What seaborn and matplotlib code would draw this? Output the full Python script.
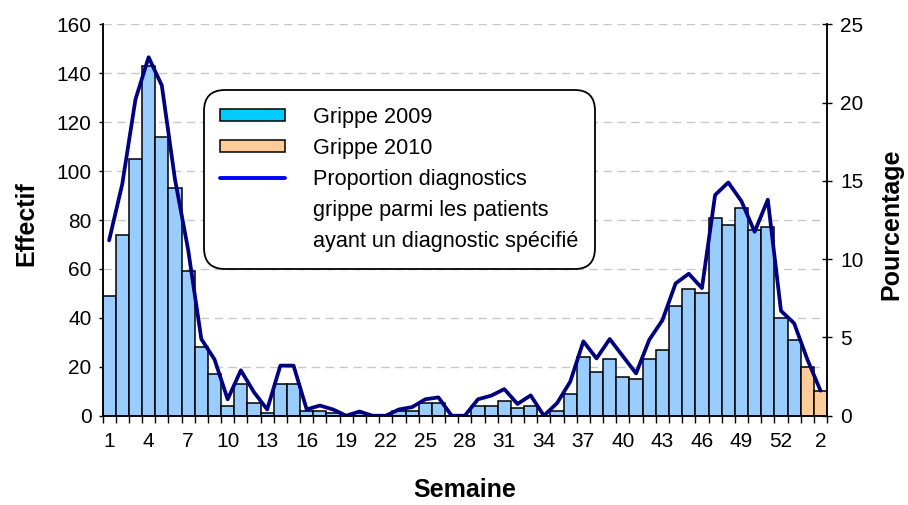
import numpy as np
import pandas as pd
import matplotlib
matplotlib.use("Agg")
import matplotlib.pyplot as plt
from matplotlib.patches import Patch
from matplotlib.lines import Line2D
import seaborn as sns

# Weekly counts of flu diagnoses (2009 weeks 1-53, then 2010 weeks 1-2)
weeks = list(range(1, 54)) + [1, 2]
years = ["2009"] * 53 + ["2010"] * 2
counts = [49, 74, 105, 143, 114, 93, 59, 28, 17, 4,
          13, 5, 1, 13, 13, 2, 2, 1, 0, 1,
          0, 0, 2, 2, 5, 5, 0, 0, 4, 4,
          6, 3, 4, 0, 2, 9, 24, 18, 23, 16,
          15, 23, 27, 45, 52, 50, 81, 78, 85, 76,
          77, 40, 31, 20, 10]
# Share of flu among patients with a specified diagnosis (%)
pct = [11.2, 14.8, 20.2, 22.9, 21.1, 15.1, 10.6, 4.9, 3.6, 1.05,
       2.9, 1.5, 0.4, 3.2, 3.2, 0.4, 0.65, 0.4, 0.0, 0.27,
       0.0, 0.0, 0.4, 0.55, 1.05, 1.17, 0.0, 0.0, 1.05, 1.28,
       1.7, 0.75, 1.3, 0.0, 0.8, 2.17, 4.75, 3.66, 4.9, 3.8,
       2.7, 4.85, 6.1, 8.45, 9.07, 8.15, 14.1, 14.9, 13.7, 11.75,
       13.8, 6.7, 5.9, 3.6, 1.6]

df = pd.DataFrame({"pos": range(len(weeks)), "week": weeks, "year": years,
                   "count": counts, "pct": pct})
tick_pos = list(range(0, len(weeks), 3))
tick_labels = [str(weeks[i]) for i in tick_pos]

sns.set_style("white")
plt.rcParams["font.family"] = ["Liberation Sans", "DejaVu Sans"]
plt.rcParams.update({"text.color": "black", "axes.labelcolor": "black",
                     "xtick.color": "black", "ytick.color": "black"})

fig = plt.figure(figsize=(9.08, 5.05), dpi=100)
ax = fig.add_axes([0.1129, 0.1768, 0.798, 0.775])

sns.barplot(data=df, x="pos", y="count", hue="year",
            palette={"2009": "#99CCFF", "2010": "#FFCC99"},
            dodge=False, width=1.0, saturation=1, edgecolor="black",
            linewidth=1.1, legend=False, ax=ax)

ax2 = ax.twinx()
sns.lineplot(data=df, x="pos", y="pct", color="#000080", linewidth=2.7,
             solid_joinstyle="round", solid_capstyle="round", ax=ax2)

# left axis
ax.set_ylim(0, 160)
ax.set_yticks(range(0, 161, 20))
ax.set_axisbelow(True)
ax.yaxis.grid(True, linestyle=(0, (6, 4)), color="#C8C8C8", linewidth=1.0)
ax.tick_params(axis="y", which="major", left=True, direction="out",
               length=3, width=1, labelsize=15, pad=5)

# x axis: labels every 3 weeks, tick marks between bars
ax.set_xlim(-0.5, len(weeks) - 0.5)
ax.set_xticks(tick_pos)
ax.set_xticklabels(tick_labels)
ax.set_xticks(np.arange(-0.5, len(weeks), 1), minor=True)
ax.tick_params(axis="x", which="major", length=0, labelsize=15, pad=12)
ax.tick_params(axis="x", which="minor", bottom=True, direction="out",
               length=5, width=1)

# right axis
ax2.set_ylim(0, 25)
ax2.set_yticks(range(0, 26, 5))
ax2.tick_params(axis="y", which="major", right=True, direction="inout",
                length=7, width=1, labelsize=15, pad=6)

for a in (ax, ax2):
    a.spines["top"].set_visible(False)
    for s in ("left", "right", "bottom"):
        a.spines[s].set_color("black")
        a.spines[s].set_linewidth(1.1)

ax.set_xlabel("Semaine", fontsize=18, fontweight="bold")
ax.set_ylabel("Effectif", fontsize=18, fontweight="bold")
ax2.set_ylabel("Pourcentage", fontsize=18, fontweight="bold")
ax.xaxis.set_label_coords(0.5, -0.158)
ax.yaxis.set_label_coords(-0.089, 0.492)
ax2.yaxis.set_label_coords(1.072, 0.49)

handles = [
    Patch(facecolor="#00CCFF", edgecolor="black", linewidth=1.1, label="Grippe 2009"),
    Patch(facecolor="#FFCC99", edgecolor="black", linewidth=1.1, label="Grippe 2010"),
    Line2D([], [], color="#0000FF", linewidth=2.8, label="Proportion diagnostics"),
    Line2D([], [], color="none", label="grippe parmi les patients"),
    Line2D([], [], color="none", label="ayant un diagnostic spécifié"),
]
leg = ax2.legend(handles=handles, loc="center", bbox_to_anchor=(0.41, 0.6035),
                 fontsize=15.6, frameon=True, handlelength=3.0, handleheight=0.48,
                 handletextpad=1.29, labelspacing=0.47, borderpad=0.76,
                 borderaxespad=0, fancybox=True, framealpha=1)
frame = leg.get_frame()
frame.set_edgecolor("black")
frame.set_linewidth(1.3)
frame.set_boxstyle("round", pad=0, rounding_size=0.95)

fig.savefig("out.png", dpi=100)
